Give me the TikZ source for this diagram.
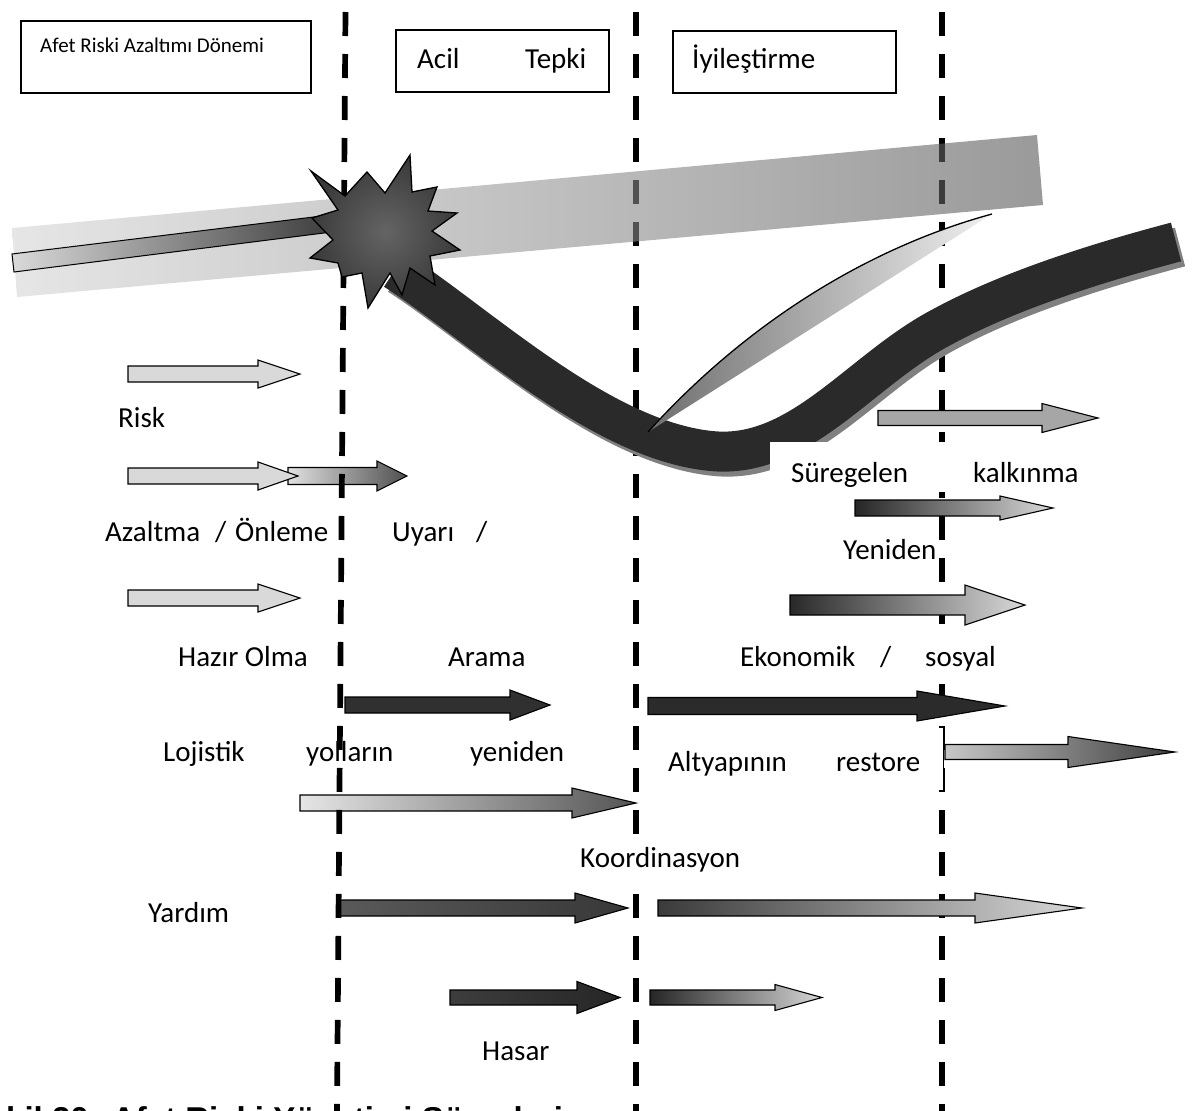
\documentclass[tikz,border=0pt]{standalone}
\usepackage{fontspec}
\setmainfont{Carlito}
\newfontfamily\capfont{Liberation Sans}
\definecolor{curvec}{RGB}{42,42,42}
\definecolor{shadowc}{RGB}{128,128,128}
\definecolor{lightarr}{RGB}{217,217,217}
\definecolor{bandl}{RGB}{213,213,213}
\definecolor{bandr}{RGB}{87,87,87}
\definecolor{starin}{RGB}{100,100,100}
\definecolor{starout}{RGB}{58,58,58}
\definecolor{lensdark}{RGB}{110,110,110}
\definecolor{lenslight}{RGB}{240,240,240}
\newcommand{\blockarr}[7]{%
  \path[#1] (#2,#5-#6) -- (#3,#5-#6) -- (#3,#5-#7) -- (#4,#5)
    -- (#3,#5+#7) -- (#3,#5+#6) -- (#2,#5+#6) -- cycle;}
\tikzset{
  arrline/.style={draw=black, line width=1.1pt, line join=miter},
  flat/.style={arrline, fill=black!#1},
  grad/.style 2 args={arrline, left color=black!#1, right color=black!#2},
  lbl/.style={font=\fontsize{29}{34}\selectfont, inner sep=0pt, anchor=base west},
  dashcol/.style={line width=5.7pt, dash pattern=on 24pt off 18pt, black},
  phasebox/.style={draw=black, line width=1.6pt, inner sep=0pt, anchor=north west},
}
\begin{document}
\begin{tikzpicture}[x=1pt,y=-1pt]
\useasboundingbox (0,0) rectangle (1192,1111);

% arrows lying under the phase separators
\blockarr{flat=15}{128}{258}{300}{374}{8}{14}
\blockarr{grad={12}{69}}{288}{377}{407}{476}{8.5}{15}
\blockarr{flat=15}{128}{258}{298}{476}{8}{14}
\blockarr{flat=15}{128}{258}{300}{598}{8}{14}
\blockarr{grad={10}{67}}{300}{572}{636}{803}{8}{15}
\blockarr{grad={65}{78}}{340}{575}{628}{908}{8}{15}

% phase separators
\coordinate (s1) at (345.5,12);  \coordinate (e1) at (337,1111);
\coordinate (s2) at (636,12);  \coordinate (e2) at (636,1111);
\coordinate (s3) at (942,12);  \coordinate (e3) at (942,1111);
\draw[dashcol] (s1) -- (e1);
\draw[dashcol] (s2) -- (e2);
\draw[dashcol] (s3) -- (e3);

% expected development band
\shade[left color=bandl, right color=bandr, fill opacity=0.6]
  (12,228) -- (1037,135) -- (1043,205) -- (17,297) -- cycle;

% development path before the event
\path[arrline, line width=1pt, left color=lightarr, right color=black!76]
  (12,254) -- (330,215) -- (332,232) -- (14,272) -- cycle;

% actual development after the event
\draw[line width=40pt, shadowc, shift={(4,5)}]
  (395,270) .. controls (480,325) and (600,440) .. (711,451)
  .. controls (800,460) and (860,370) .. (942,327)
  .. controls (1010,290) and (1100,262) .. (1176,242);
\draw[line width=40pt, curvec]
  (395,270) .. controls (480,325) and (600,440) .. (711,451)
  .. controls (800,460) and (860,370) .. (942,327)
  .. controls (1010,290) and (1100,262) .. (1176,242);

% recovery wedge
\shade[left color=lensdark, right color=lenslight]
  (648,432) .. controls (740,330) and (860,250) .. (992,214) -- cycle;
\draw[line width=1.3pt] (648,432) .. controls (740,330) and (860,250) .. (992,214);

% disaster event
\shadedraw[inner color=starin, outer color=starout, draw=black, line width=1.3pt, line join=miter]
  (311,171) -- (345,196) -- (367,172) -- (385,193) -- (410,155) -- (412,192)
  -- (437,187) -- (428,211) -- (457,213) -- (432,231) -- (460,250) -- (430,256)
  -- (435,285) -- (410,268) -- (402,295) -- (390,273) -- (368,308) -- (362,273)
  -- (342,277) -- (338,263) -- (310,258) -- (333,240) -- (312,218) -- (338,210) -- cycle;

% text backgrounds
\fill[white] (770,442) rectangle (1110,492);
\fill[white] (650,727) rectangle (943,790);
\fill[white] (918,640) rectangle (1002,674);
\draw[line width=0.8pt] (939,727) -- (943,727) -- (943,790) -- (939,790);

% remaining arrows
\blockarr{flat=81}{345}{510}{550}{705}{8}{15}
\blockarr{flat=83}{648}{917}{1005}{706}{8.5}{15}
\blockarr{grad={22}{76}}{945}{1068}{1175}{752}{7.5}{15.5}
\blockarr{grad={77}{15}}{658}{975}{1082}{908}{8}{15}
\blockarr{grad={76}{85}}{450}{577}{620}{997.5}{7.5}{16}
\blockarr{grad={85}{16}}{650}{775}{822}{997.5}{7.5}{13}
\blockarr{flat=35}{878}{1042}{1098}{418}{7.5}{14.5}
\blockarr{grad={85}{15}}{855}{1000}{1053}{508}{8}{12}
\blockarr{grad={84}{15}}{790}{965}{1025}{605}{10}{20}

% phase headers
\node[phasebox, minimum width=290pt, minimum height=72pt] (ph1) at (20,20) {};
\node[phasebox, minimum width=213pt, minimum height=62pt] (ph2) at (395,29) {};
\node[phasebox, minimum width=223pt, minimum height=62pt] (ph3) at (672,30) {};
\node[lbl, font=\fontsize{21}{25}\selectfont] (t1) at (40,52) {Afet Riski Azaltımı Dönemi};
\node[lbl] (t2a) at (417,68) {Acil};
\node[lbl] (t2b) at (525,68) {Tepki};
\node[lbl] (t3) at (692,68) {İyileştirme};

% activity labels
\node[lbl] (risk) at (118,427) {Risk};
\node[lbl] (azal) at (105,541) {Azaltma};
\node[lbl] (azsl) at (215,541) {/};
\node[lbl] (onle) at (235,541) {Önleme};
\node[lbl] (uyar) at (392,541) {Uyarı};
\node[lbl] (uysl) at (476,541) {/};
\node[lbl] (hazi) at (178,666) {Hazır Olma};
\node[lbl] (aram) at (448,666) {Arama};
\node[lbl] (ekon) at (740,666) {Ekonomik};
\node[lbl] (ekst) at (880,666) {/};
\node[lbl] (sosy) at (925,666) {sosyal};
\node[lbl] (loji) at (163,761) {Lojistik};
\node[lbl] (yoll) at (306,761) {yolların};
\node[lbl] (yeni) at (470,761) {yeniden};
\node[lbl] (alty) at (668,771) {Altyapının};
\node[lbl] (rest) at (836,771) {restore};
\node[lbl, fill=white, inner sep=6pt] (koor) at (574,867) {Koordinasyon};
\node[lbl] (yard) at (148,922) {Yardım};
\node[lbl] (hasa) at (482,1060) {Hasar};
\node[lbl] (sure) at (791,482) {Süregelen};
\node[lbl] (kalk) at (973,482) {kalkınma};
\node[lbl] (yend) at (843,559) {Yeniden};

% figure caption, cut by the page edge
\node[inner sep=0pt, anchor=base west, font=\capfont\bfseries\fontsize{33}{40}\selectfont] (cap) at (6,1130)
  {\llap{Şe}kil 20: Afet Riski Yönetimi Süreçleri};
\end{tikzpicture}
\end{document}
